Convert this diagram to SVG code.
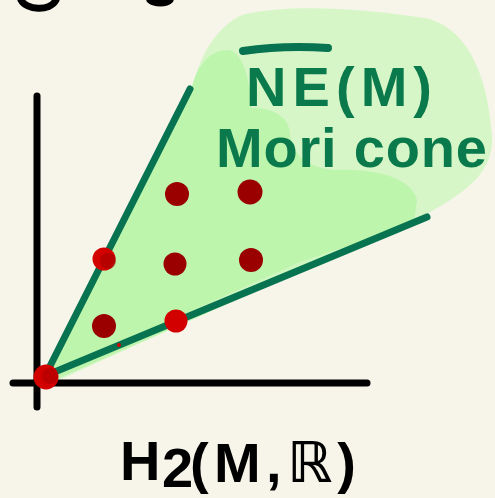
<svg xmlns="http://www.w3.org/2000/svg" width="495" height="498" viewBox="0 0 495 498">
<style>
.axis{stroke:#000;stroke-width:7;stroke-linecap:round;fill:none}
.cone{stroke:#077350;stroke-width:7;stroke-linecap:round;fill:none}
.lbl{font-family:"Liberation Sans","DejaVu Sans",sans-serif;font-weight:bold;font-size:56px}
.g{fill:#0a7a4c}
.dk{fill:#9b0000}
.br{fill:#d30000}
</style>
<rect width="495" height="498" fill="#f7f5ea"/>
<g id="fragments">
<path d="M21 0 C26 10 50 12 56 0" class="axis"/>
<path d="M150 0 C155 4 166 4 170 0" class="axis"/>
</g>
<g id="cone-fill">
<path d="M40 380 L190 95 C198 60 215 25 245 14 C290 4 360 8 425 18 C470 28 488 80 492 135 C494 170 470 190 430 212 L50 384 Z" fill="#d6f6c8"/>
<path d="M42 378 L190 95 C196 65 210 50 228 50 C245 52 250 85 252 108 C275 108 290 118 290 135 C292 152 305 168 335 170 C375 168 412 178 417 200 L414 222 L50 382 Z" fill="#bdf5ad"/>
<path d="M60 370 L300 270 L380 235 L300 262 Z" fill="#d6f6c8" opacity="0.7"/>
</g>
<g id="axes">
<line x1="37" y1="96" x2="37" y2="407" class="axis"/>
<line x1="13" y1="383" x2="367" y2="383" class="axis"/>
</g>
<g id="connectors">
<line x1="45" y1="376" x2="190" y2="89" class="cone"/>
<line x1="45" y1="376" x2="427" y2="217" class="cone"/>
</g>
<g id="dots">
<circle cx="177" cy="194" r="12" class="dk"/>
<circle cx="250" cy="192" r="12.5" class="dk"/>
<circle cx="104" cy="259" r="11.5" class="br"/>
<circle cx="108" cy="261" r="8" class="dk" opacity="0.5"/>
<circle cx="175" cy="264" r="11.5" class="dk"/>
<circle cx="251" cy="260" r="12" class="dk"/>
<circle cx="104" cy="326" r="12" class="dk"/>
<circle cx="176" cy="321" r="11.5" class="br"/>
<circle cx="119" cy="345" r="2" class="br"/>
<circle cx="46" cy="377" r="12.5" class="br"/>
<circle cx="50" cy="376" r="8" class="dk" opacity="0.4"/>
</g>
<g id="label-cone">
<path d="M243 51 C270 47 300 46 328 48" stroke="#077350" stroke-width="8" stroke-linecap="round" fill="none"/>
<text x="246" y="106" class="lbl g" textLength="186" lengthAdjust="spacing">NE(M)</text>
<text x="216" y="167" class="lbl g" textLength="271" lengthAdjust="spacing">Mori cone</text>
</g>
<g id="label-axis">
<text x="120" y="480" class="lbl" fill="#000">H</text>
<text x="162" y="487" class="lbl" fill="#000" font-size="30">2</text>
<text x="190" y="482" class="lbl" fill="#000" textLength="166" lengthAdjust="spacing">(M,ℝ)</text>
</g>
</svg>
